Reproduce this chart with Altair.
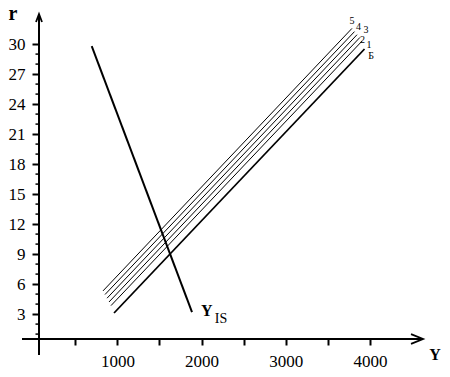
import altair as alt
import pandas as pd

# ---- data ----
lm_names = ["Б", "1", "2", "3", "4", "5"]
lm_y_start = [960, 924, 900, 877, 853, 829]
lm_y_end = [3935, 3905, 3881, 3846, 3816, 3786]
lm_r_start = [3.11, 3.85, 4.21, 4.59, 4.96, 5.32]
lm_r_end = [29.51, 30.30, 30.67, 30.94, 31.25, 31.57]

is_y = [695, 1886]
is_r = [29.8, 3.2]

x_ticks = [500, 1000, 1500, 2000, 2500, 3000, 3500, 4000]
y_ticks = [3, 6, 9, 12, 15, 18, 21, 24, 27, 30]
y_minor = [1, 2, 4, 5, 7, 8, 10, 11, 13, 14, 16, 17, 19, 20, 22, 23, 25, 26, 28, 29]

# ---- tables ----
rows = []
for n, y0, y1, r0, r1 in zip(lm_names, lm_y_start, lm_y_end, lm_r_start, lm_r_end):
    rows.append({"name": n, "Y": y0, "r": r0})
    rows.append({"name": n, "Y": y1, "r": r1})
lm_df = pd.DataFrame(rows)
ends_df = pd.DataFrame({"name": lm_names, "Y": lm_y_end, "r": lm_r_end})
is_df = pd.DataFrame({"Y": is_y, "r": is_r})
is_end = pd.DataFrame({"Y": [is_y[1]], "r": [is_r[1]]})
minor_df = pd.DataFrame({"r": y_minor})

SERIF = "Liberation Serif"
xscale = alt.Scale(domain=[68.9, 4950.1], nice=False, zero=False)
yscale = alt.Scale(domain=[0.51, 34.41], nice=False, zero=False)

xaxis = alt.Axis(values=x_ticks, format="d",
                 labelExpr="datum.value % 1000 == 0 ? datum.label : ''",
                 tickSize=6, tickWidth=2, tickColor="black", domain=False, grid=False,
                 labelFont=SERIF, labelFontSize=17, labelColor="black", labelPadding=8,
                 labelOverlap=False, labelFlush=False, title=None)
yaxis = alt.Axis(values=y_ticks, format="d",
                 tickSize=7, tickWidth=2, tickColor="black", domain=False, grid=False,
                 labelFont=SERIF, labelFontSize=17, labelColor="black", labelPadding=7,
                 labelOverlap=False, labelFlush=False, title=None)

def X():
    return alt.X("Y:Q", scale=xscale, axis=xaxis)

def Yc():
    return alt.Y("r:Q", scale=yscale, axis=yaxis)

layers = []

# LM lines 1-5 (thin)
layers.append(
    alt.Chart(lm_df[lm_df["name"] != "Б"]).mark_line(color="black", strokeWidth=1)
    .encode(x=X(), y=Yc(), detail="name:N")
)
# LM line Б (thicker)
layers.append(
    alt.Chart(lm_df[lm_df["name"] == "Б"]).mark_line(color="black", strokeWidth=1.8)
    .encode(x=X(), y=Yc(), detail="name:N")
)
# IS line
layers.append(
    alt.Chart(is_df).mark_line(color="black", strokeWidth=2).encode(x=X(), y=Yc())
)

# line labels
offsets = {"5": (0, -7.5), "4": (4, -4.5), "3": (9, -4.5),
           "2": (2.5, 3.0), "1": (7, 3.5), "Б": (6.5, 6.5)}
for n in lm_names:
    dx, dy = offsets[n]
    layers.append(
        alt.Chart(ends_df[ends_df["name"] == n]).mark_text(
            font=SERIF, fontSize=10, color="black", align="center", baseline="middle",
            dx=dx, dy=dy)
        .encode(x=X(), y=Yc(), text="name:N")
    )

# Y_IS label
layers.append(
    alt.Chart(is_end).mark_text(font=SERIF, fontSize=16, fontWeight="bold", color="black",
                                align="center", baseline="middle", dx=14.7, dy=-0.7)
    .encode(x=X(), y=Yc(), text=alt.value("Y"))
)
layers.append(
    alt.Chart(is_end).mark_text(font=SERIF, fontSize=14, color="black",
                                align="center", baseline="middle", dx=29, dy=6.7)
    .encode(x=X(), y=Yc(), text=alt.value("IS"))
)

# minor ticks on r axis
layers.append(
    alt.Chart(minor_df).mark_rule(color="black", strokeWidth=1.5)
    .encode(y=Yc(), x=alt.value(-3.5), x2=alt.value(0))
)

# axis lines
layers.append(
    alt.Chart(pd.DataFrame({"a": [0]})).mark_rule(color="black", strokeWidth=2)
    .encode(x=alt.value(0), y=alt.value(16), y2=alt.value(355))
)
layers.append(
    alt.Chart(pd.DataFrame({"a": [0]})).mark_rule(color="black", strokeWidth=2)
    .encode(x=alt.value(-17), x2=alt.value(383), y=alt.value(339))
)
# arrow heads
layers.append(
    alt.Chart(pd.DataFrame({"a": [0]})).mark_point(
        shape="M -0.75 1 L 0 -1 L 0.75 1", filled=False, color="black",
        strokeWidth=1.8, size=64, opacity=1)
    .encode(x=alt.value(0), y=alt.value(18))
)
layers.append(
    alt.Chart(pd.DataFrame({"a": [0]})).mark_point(
        shape="M -1 -0.8 L 1 0 L -1 0.8", filled=False, color="black",
        strokeWidth=1.8, size=144, opacity=1)
    .encode(x=alt.value(378), y=alt.value(339))
)

# axis names
layers.append(
    alt.Chart(pd.DataFrame({"a": [0]})).mark_text(
        font=SERIF, fontSize=20, fontWeight="bold", color="black",
        align="center", baseline="middle")
    .encode(x=alt.value(-26), y=alt.value(14), text=alt.value("r"))
)
layers.append(
    alt.Chart(pd.DataFrame({"a": [0]})).mark_text(
        font=SERIF, fontSize=16, fontWeight="bold", color="black",
        align="center", baseline="middle")
    .encode(x=alt.value(396), y=alt.value(355), text=alt.value("Y"))
)

chart = alt.layer(*layers).properties(
    width=411, height=339,
    padding={"left": 39, "top": 0, "right": 0, "bottom": 38},
    autosize="none",
    background="white",
).configure_view(stroke=None)

chart.save("out.html", embed_options={"renderer": "svg", "actions": False})
